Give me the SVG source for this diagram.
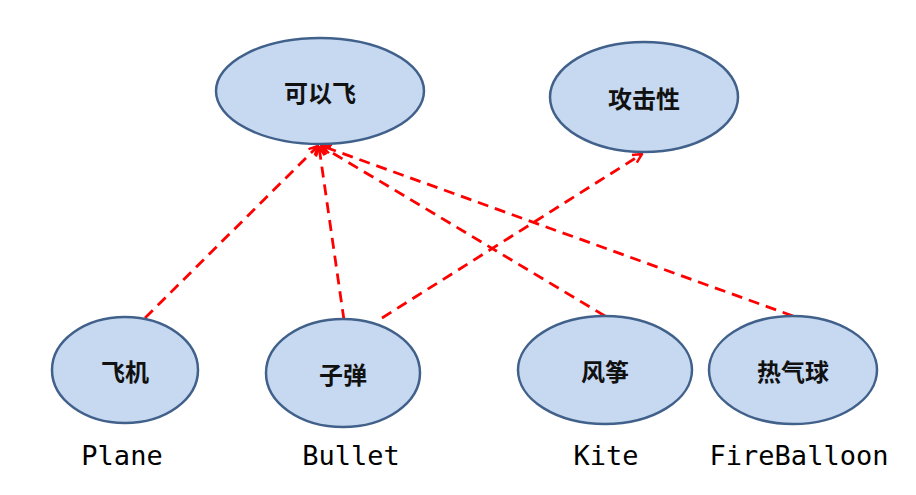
<svg xmlns="http://www.w3.org/2000/svg" width="916" height="495" viewBox="0 0 916 495">
<style>
.node ellipse{fill:#c6d9f1;stroke:#41618b;stroke-width:2.5}
.node text{font-family:"Noto Sans CJK SC","Noto Sans CJK TC",sans-serif;font-size:24px;font-weight:bold;fill:#111;text-anchor:middle;dominant-baseline:central}
.lbl{font-family:"DejaVu Sans Mono","Liberation Mono",monospace;font-size:27px;fill:#000;text-anchor:middle}
.edge{stroke:#ff0000;stroke-width:2.8;stroke-dasharray:11,7;fill:none;marker-end:url(#arr)}
</style>
<defs>
<marker id="arr" viewBox="0 0 10 10" refX="9" refY="5" markerWidth="4" markerHeight="4" orient="auto" markerUnits="strokeWidth">
<path d="M1,1 L9,5 L1,9" fill="none" stroke="#ff0000" stroke-width="2.2"/>
</marker>
</defs>
<g id="connectors">
<line class="edge" x1="145" y1="318" x2="318" y2="146"/>
<line class="edge" x1="344" y1="320" x2="319" y2="147"/>
<line class="edge" x1="605" y1="316" x2="321" y2="146"/>
<line class="edge" x1="793" y1="316" x2="322" y2="146"/>
<line class="edge" x1="382" y1="318" x2="642" y2="154"/>
</g>
<g id="node-fly" class="node"><ellipse cx="320" cy="91" rx="104" ry="53"/><text x="320" y="91">可以飞</text></g>
<g id="node-attack" class="node"><ellipse cx="644" cy="97" rx="94" ry="55"/><text x="644" y="97">攻击性</text></g>
<g id="node-plane" class="node"><ellipse cx="125" cy="370" rx="73" ry="53"/><text x="125" y="370">飞机</text></g>
<g id="node-bullet" class="node"><ellipse cx="343" cy="373" rx="77" ry="54"/><text x="343" y="373">子弹</text></g>
<g id="node-kite" class="node"><ellipse cx="605" cy="370" rx="87" ry="54"/><text x="605" y="370">风筝</text></g>
<g id="node-balloon" class="node"><ellipse cx="793" cy="370" rx="84" ry="54"/><text x="793" y="370">热气球</text></g>
<g id="labels">
<text class="lbl" x="122" y="465">Plane</text>
<text class="lbl" x="351" y="465">Bullet</text>
<text class="lbl" x="606" y="465">Kite</text>
<text class="lbl" x="799" y="465">FireBalloon</text>
</g>
</svg>
